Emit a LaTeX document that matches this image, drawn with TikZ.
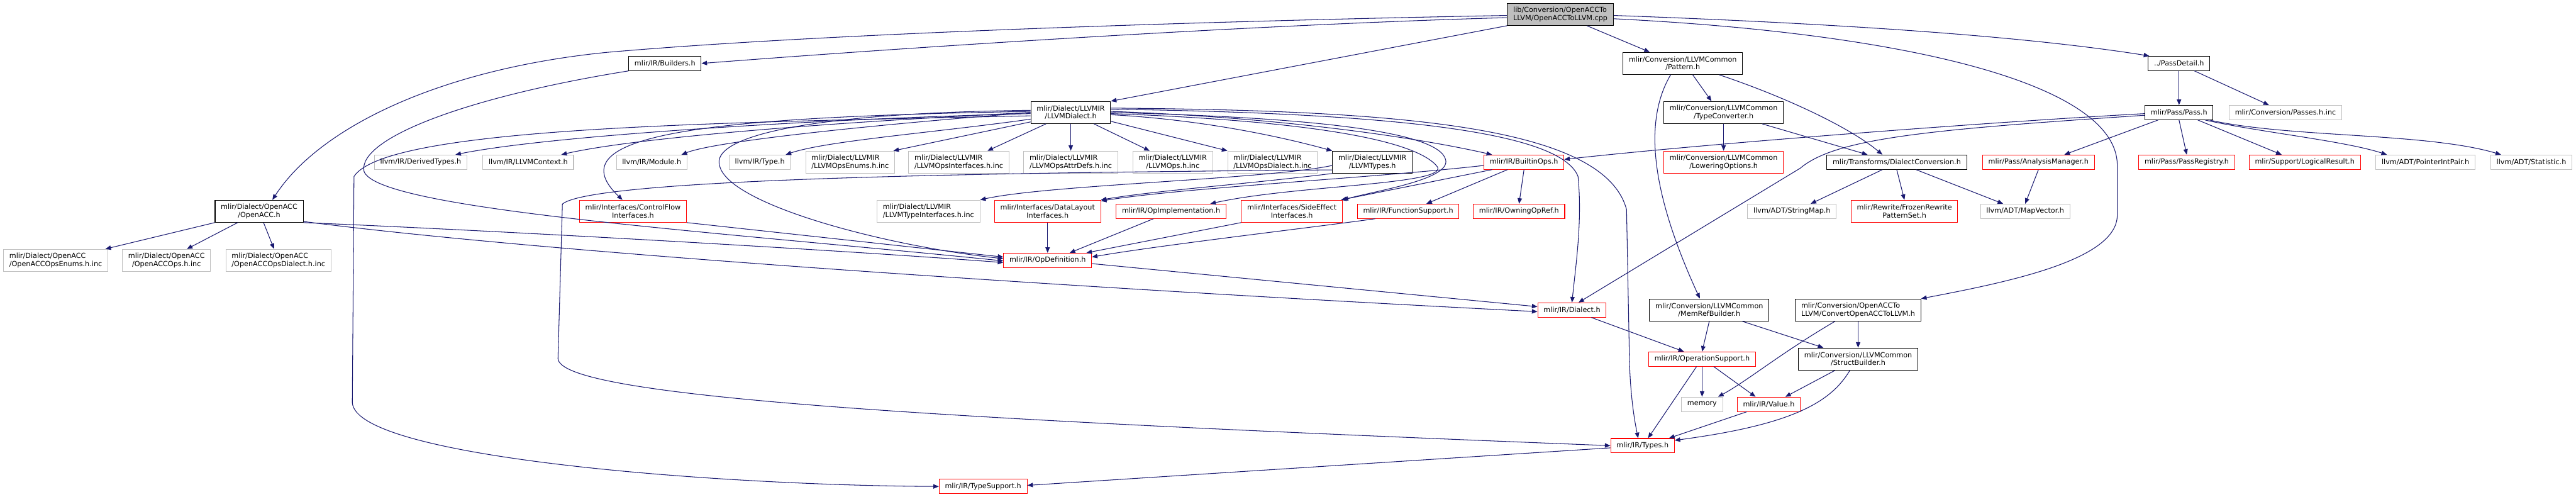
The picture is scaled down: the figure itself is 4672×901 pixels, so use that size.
\documentclass[tikz,border=0pt]{standalone}
\usepackage{fontspec}
\setmainfont{DejaVu Sans}
\usepackage{xcolor}
\usetikzlibrary{arrows.meta}
\definecolor{edgeblue}{HTML}{191970}
\definecolor{extline}{HTML}{BFBFBF}
\definecolor{cutline}{HTML}{FF0000}
\definecolor{rootfill}{HTML}{BFBFBF}

\begin{document}
\begin{tikzpicture}[x=1pt,y=-1pt,
  filebox/.style={fill=white, line width=1.2pt, inner xsep=10.5pt, inner ysep=3pt,
    minimum height=26pt, align=center, font=\fontsize{12.8}{14.3}\selectfont},
  twoline/.style={minimum height=40pt},
  docbox/.style={filebox, draw=black},
  extbox/.style={filebox, draw=extline},
  cutbox/.style={filebox, draw=cutline},
  incl/.style={draw=edgeblue, line width=1.2pt, -{Triangle[length=10pt,width=8pt]}}]
  \useasboundingbox (0,0) rectangle (4672,901);

  % top rows
  \node[docbox, twoline, fill=rootfill, align=left] (root) at (2830,26) {lib/Conversion/OpenACCTo\\LLVM/OpenACCToLLVM.cpp};
  \node[docbox] (builders) at (1206,115) {mlir/IR/Builders.h};
  \node[docbox, twoline] (pattern) at (3052,115) {mlir/Conversion/LLVMCommon\\/Pattern.h};
  \node[docbox] (passdetail) at (3952,115) {../PassDetail.h};
  \node[docbox, twoline] (llvmdialect) at (1942,204) {mlir/Dialect/LLVMIR\\/LLVMDialect.h};
  \node[docbox, twoline] (typeconv) at (3126,204) {mlir/Conversion/LLVMCommon\\/TypeConverter.h};
  \node[docbox] (pass) at (3952,204) {mlir/Pass/Pass.h};
  \node[extbox] (passesinc) at (4145,204) {mlir/Conversion/Passes.h.inc};

  % row 294
  \node[extbox] (derived) at (763,294) {llvm/IR/DerivedTypes.h};
  \node[extbox] (llvmctx) at (958,294) {llvm/IR/LLVMContext.h};
  \node[extbox] (module) at (1182,294) {llvm/IR/Module.h};
  \node[extbox] (type) at (1378,294) {llvm/IR/Type.h};
  \node[extbox, twoline, align=left] (opsenums) at (1542,294) {mlir/Dialect/LLVMIR\\/LLVMOpsEnums.h.inc};
  \node[extbox, twoline, align=left] (opsifaces) at (1739,294) {mlir/Dialect/LLVMIR\\/LLVMOpsInterfaces.h.inc};
  \node[extbox, twoline, align=left] (opsattr) at (1942,294) {mlir/Dialect/LLVMIR\\/LLVMOpsAttrDefs.h.inc};
  \node[extbox, twoline] (opsinc) at (2127,294) {mlir/Dialect/LLVMIR\\/LLVMOps.h.inc};
  \node[extbox, twoline, align=left] (opsdialect) at (2308,294) {mlir/Dialect/LLVMIR\\/LLVMOpsDialect.h.inc};
  \node[docbox, twoline] (llvmtypes) at (2489,294) {mlir/Dialect/LLVMIR\\/LLVMTypes.h};
  \node[cutbox] (builtinops) at (2764,294) {mlir/IR/BuiltinOps.h};
  \node[cutbox, twoline] (lowering) at (3126,294) {mlir/Conversion/LLVMCommon\\/LoweringOptions.h};
  \node[docbox] (dialconv) at (3440,294) {mlir/Transforms/DialectConversion.h};
  \node[cutbox] (analysis) at (3697,294) {mlir/Pass/AnalysisManager.h};
  \node[cutbox] (registry) at (3966,294) {mlir/Pass/PassRegistry.h};
  \node[cutbox] (logical) at (4180,294) {mlir/Support/LogicalResult.h};
  \node[extbox] (ptrint) at (4399,294) {llvm/ADT/PointerIntPair.h};
  \node[extbox] (statistic) at (4591,294) {llvm/ADT/Statistic.h};

  % row 383
  \node[docbox, twoline] (openacc) at (470,383) {mlir/Dialect/OpenACC\\/OpenACC.h};
  \node[cutbox, twoline] (ctrlflow) at (1148,383) {mlir/Interfaces/ControlFlow\\Interfaces.h};
  \node[extbox, twoline, align=left] (typeifaces) at (1684,383) {mlir/Dialect/LLVMIR\\/LLVMTypeInterfaces.h.inc};
  \node[cutbox, twoline] (datalayout) at (1900,383) {mlir/Interfaces/DataLayout\\Interfaces.h};
  \node[cutbox] (opimpl) at (2124,383) {mlir/IR/OpImplementation.h};
  \node[cutbox, twoline] (sideeffect) at (2343,383) {mlir/Interfaces/SideEffect\\Interfaces.h};
  \node[cutbox] (funcsupport) at (2554,383) {mlir/IR/FunctionSupport.h};
  \node[cutbox] (owning) at (2755,383) {mlir/IR/OwningOpRef.h};
  \node[extbox] (stringmap) at (3250,383) {llvm/ADT/StringMap.h};
  \node[cutbox, twoline] (frozen) at (3454,383) {mlir/Rewrite/FrozenRewrite\\PatternSet.h};
  \node[extbox] (mapvector) at (3673,383) {llvm/ADT/MapVector.h};

  % lower rows
  \node[extbox, twoline, align=left] (accenums) at (101,472) {mlir/Dialect/OpenACC\\/OpenACCOpsEnums.h.inc};
  \node[extbox, twoline] (accops) at (302,472) {mlir/Dialect/OpenACC\\/OpenACCOps.h.inc};
  \node[extbox, twoline, align=left] (accdialect) at (505,472) {mlir/Dialect/OpenACC\\/OpenACCOpsDialect.h.inc};
  \node[cutbox] (opdef) at (1900,472) {mlir/IR/OpDefinition.h};
  \node[cutbox] (dialect) at (2851,562) {mlir/IR/Dialect.h};
  \node[docbox, twoline] (memref) at (3100,562) {mlir/Conversion/LLVMCommon\\/MemRefBuilder.h};
  \node[docbox, twoline, align=left] (convacc) at (3370,562) {mlir/Conversion/OpenACCTo\\LLVM/ConvertOpenACCToLLVM.h};
  \node[cutbox] (opsupport) at (3087,651) {mlir/IR/OperationSupport.h};
  \node[docbox, twoline] (structb) at (3370,651) {mlir/Conversion/LLVMCommon\\/StructBuilder.h};
  \node[extbox] (memory) at (3087,733) {memory};
  \node[cutbox] (value) at (3208,733) {mlir/IR/Value.h};
  \node[cutbox] (types) at (2979,808) {mlir/IR/Types.h};
  \node[cutbox] (typesupport) at (1783,882) {mlir/IR/TypeSupport.h};

  % root
  \draw[incl] ([yshift=-6pt]root.west) .. controls (2300,44) and (1700,82) .. (builders.east);
  \draw[incl] ([yshift=-2pt]root.west) .. controls (2200,38) and (1500,60) .. (1100,95) .. controls (800,125) and (580,230) .. ([xshift=24pt]openacc.north);
  \draw[incl] (root.south west) -- (llvmdialect.north east);
  \draw[incl] ([xshift=48pt]root.south) -- ([xshift=-60pt]pattern.north);
  \draw[incl] ([yshift=-2pt]root.east) .. controls (3400,45) and (3700,70) .. ([xshift=-54pt]passdetail.north);
  \draw[incl] ([yshift=-8pt]root.east) .. controls (3450,60) and (3840,150) .. (3840,300) -- (3840,390) .. controls (3840,470) and (3650,510) .. (convacc.north east);

  % builders, openacc
  \draw[incl] (builders.south west) .. controls (850,175) and (650,250) .. (660,310) .. controls (680,380) and (1300,420) .. ([yshift=-1pt]opdef.west);
  \draw[incl] (openacc.south west) -- ([xshift=-5pt]accenums.north east);
  \draw[incl] ([xshift=-39pt]openacc.south) -- ([xshift=37pt]accops.north);
  \draw[incl] ([xshift=8pt]openacc.south) -- ([xshift=-8pt]accdialect.north);
  \draw[incl] (openacc.south east) .. controls (900,418) and (1500,452) .. ([yshift=-4pt]opdef.west);
  \draw[incl] ([yshift=2pt]openacc.south east) .. controls (1000,460) and (2000,525) .. ([yshift=-3pt]dialect.west);

  % llvmdialect, left side
  \draw[incl] ([yshift=-6pt]llvmdialect.west) .. controls (1300,222) and (700,230) .. (642,320) -- (639,730) .. controls (645,830) and (1300,880) .. (typesupport.west);
  \draw[incl] ([yshift=-2pt]llvmdialect.west) .. controls (1500,215) and (1000,245) .. ([xshift=63pt]derived.north);
  \draw[incl] (llvmdialect.west) .. controls (1500,222) and (1150,250) .. ([xshift=60pt]llvmctx.north);
  \draw[incl] (llvmdialect.west) .. controls (1600,225) and (1300,255) .. ([xshift=54pt]module.north);
  \draw[incl] ([yshift=-12pt]llvmdialect.west) .. controls (1700,240) and (1500,255) .. ([xshift=47pt]type.north);
  \draw[incl] ([yshift=-17pt]llvmdialect.west) -- ([xshift=-3pt]opsenums.north east);
  \draw[incl] ([yshift=2pt]llvmdialect.west) .. controls (1300,212) and (1000,240) .. ([xshift=-19pt]ctrlflow.north);
  \draw[incl] ([yshift=4pt]llvmdialect.west) .. controls (1450,205) and (1290,250) .. (1305,300) .. controls (1320,370) and (1600,445) .. ([yshift=3pt]opdef.west);

  % llvmdialect, down and right
  \draw[incl] ([xshift=-45pt]llvmdialect.south) -- ([xshift=52pt]opsifaces.north);
  \draw[incl] (llvmdialect.south) -- (opsattr.north);
  \draw[incl] ([xshift=42pt]llvmdialect.south) -- ([xshift=-42pt]opsinc.north);
  \draw[incl] ([yshift=-16pt]llvmdialect.east) -- ([xshift=-82pt]opsdialect.north);
  \draw[incl] ([yshift=-4pt]llvmdialect.east) .. controls (2200,218) and (2350,255) .. (llvmtypes.north west);
  \draw[incl] ([yshift=2pt]llvmdialect.east) .. controls (2300,212) and (2550,245) .. ([xshift=-58pt]builtinops.north);
  \draw[incl] (llvmdialect.east) .. controls (2350,212) and (2610,235) .. (2622,290) .. controls (2630,325) and (2500,345) .. (sideeffect.north east);
  \draw[incl] ([yshift=-2pt]llvmdialect.east) .. controls (2350,218) and (2560,250) .. (2605,300) .. controls (2640,335) and (2350,335) .. ([xshift=71pt]opimpl.north);
  \draw[incl] ([yshift=6pt]llvmdialect.east) .. controls (2500,205) and (2830,235) .. (2862,320) .. controls (2870,400) and (2858,480) .. (dialect.north);
  \draw[incl] ([yshift=8pt]llvmdialect.east) .. controls (2550,200) and (2910,230) .. (2950,380) -- (2955,640) .. controls (2956,720) and (2966,770) .. ([xshift=-8pt]types.north);

  % llvmtypes, builtinops
  \draw[incl] ([yshift=-6pt]llvmtypes.west) .. controls (2300,325) and (1900,335) .. (typeifaces.north east);
  \draw[incl] (llvmtypes.south west) .. controls (2250,335) and (2100,345) .. (datalayout.north east);
  \draw[incl] ([yshift=-14pt]llvmtypes.west) .. controls (2000,312) and (1080,318) .. (1020,370) -- (1012,650) .. controls (1015,720) and (1700,760) .. (types.west);
  \draw[incl] ([yshift=-6pt]builtinops.west) .. controls (2500,322) and (2150,340) .. ([yshift=-2pt]datalayout.north east);
  \draw[incl] ([xshift=-58pt]builtinops.south) -- ([xshift=-3pt]sideeffect.north east);
  \draw[incl] ([xshift=-30pt]builtinops.south) -- ([xshift=33pt]funcsupport.north);
  \draw[incl] (builtinops.south) -- (owning.north);

  % pass, passdetail
  \draw[incl] ([yshift=-2pt]pass.west) .. controls (3600,222) and (3100,260) .. ([yshift=5pt]builtinops.east);
  \draw[incl] ([yshift=-5pt]pass.west) .. controls (3500,235) and (3330,250) .. (3265,305) -- ([xshift=12pt]dialect.north);
  \draw[incl] ([xshift=-38pt]pass.south) -- ([xshift=47pt]analysis.north);
  \draw[incl] (pass.south) -- (registry.north);
  \draw[incl] ([xshift=34pt]pass.south) -- ([xshift=-42pt]logical.north);
  \draw[incl] ([xshift=47pt]pass.south) .. controls (4100,240) and (4250,255) .. ([xshift=-70pt]ptrint.north);
  \draw[incl] ([xshift=55pt]pass.south) .. controls (4150,250) and (4400,240) .. ([xshift=-55pt]statistic.north);
  \draw[incl] (passdetail.south) -- (pass.north);
  \draw[incl] ([xshift=28pt]passdetail.south) -- ([xshift=-30pt]passesinc.north);

  % pattern, typeconv, dialconv
  \draw[incl] ([xshift=18pt]pattern.south) -- ([xshift=-22pt]typeconv.north);
  \draw[incl] ([xshift=66pt]pattern.south) .. controls (3250,180) and (3360,235) .. ([xshift=-26pt]dialconv.north);
  \draw[incl] ([xshift=-22pt]pattern.south) .. controls (2980,220) and (2995,350) .. ([xshift=-17pt]memref.north);
  \draw[incl] (typeconv.south) -- (lowering.north);
  \draw[incl] ([xshift=70pt]typeconv.south) -- ([xshift=-53pt]dialconv.north);
  \draw[incl] ([xshift=-26pt]dialconv.south) -- ([xshift=34pt]stringmap.north);
  \draw[incl] (dialconv.south) -- (frozen.north);
  \draw[incl] ([xshift=35pt]dialconv.south) -- ([xshift=-40pt]mapvector.north);
  \draw[incl] (analysis.south) -- (mapvector.north);

  % into opdef
  \draw[incl] (ctrlflow.south east) -- ([yshift=6pt]opdef.west);
  \draw[incl] (datalayout.south) -- (opdef.north);
  \draw[incl] ([xshift=-32pt]opimpl.south) -- ([xshift=40pt]opdef.north);
  \draw[incl] (sideeffect.south west) -- ([xshift=-10pt]opdef.north east);
  \draw[incl] ([xshift=-60pt]funcsupport.south) .. controls (2400,410) and (2100,445) .. ([yshift=6pt]opdef.east);
  \draw[incl] ([yshift=-6pt]opdef.east) -- ([yshift=6pt]dialect.west);

  % lower part
  \draw[incl] ([xshift=35pt]dialect.south) -- ([xshift=-33pt]opsupport.north);
  \draw[incl] (memref.south) -- (opsupport.north);
  \draw[incl] ([xshift=60pt]memref.south) -- ([xshift=-63pt]structb.north);
  \draw[incl] ([xshift=-42pt]convacc.south) .. controls (3230,640) and (3170,690) .. ([xshift=29pt]memory.north);
  \draw[incl] (convacc.south) -- (structb.north);
  \draw[incl] (opsupport.south) -- (memory.north);
  \draw[incl] ([xshift=21pt]opsupport.south) -- ([xshift=-24pt]value.north);
  \draw[incl] ([xshift=-10pt]opsupport.south) -- ([xshift=10pt]types.north);
  \draw[incl] ([xshift=-42pt]structb.south) -- ([xshift=30pt]value.north);
  \draw[incl] ([xshift=-15pt]structb.south) .. controls (3320,730) and (3250,770) .. ([yshift=-4pt]types.north east);
  \draw[incl] ([xshift=-40pt]value.south) -- ([xshift=48pt]types.north);
  \draw[incl] ([yshift=-4pt]types.west) -- ([yshift=2pt]typesupport.east);
\end{tikzpicture}
\end{document}
